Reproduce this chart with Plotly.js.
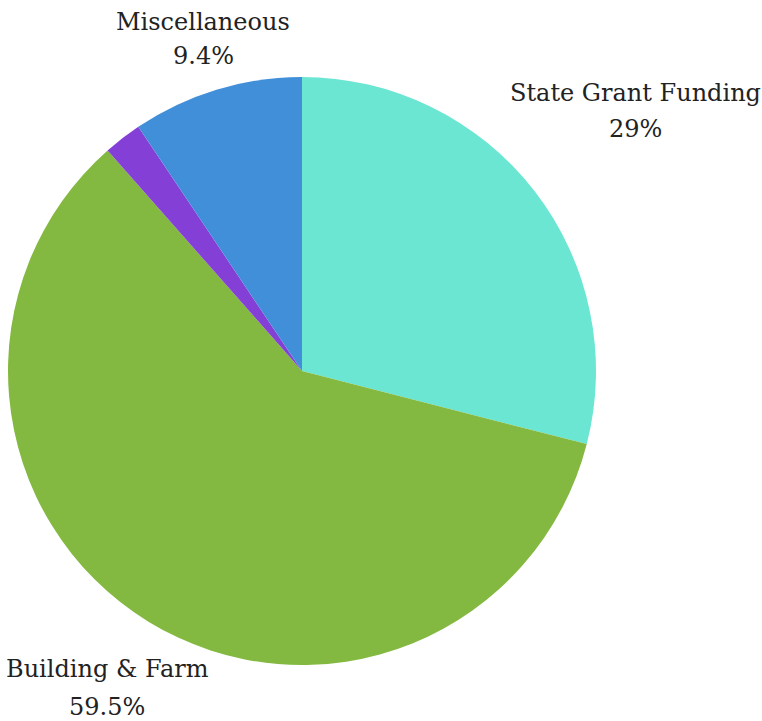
<!DOCTYPE html>
<html>
<head>
<meta charset="utf-8">
<script src="https://cdn.plot.ly/plotly-3.0.1.min.js"></script>
<style>html,body{margin:0;padding:0;background:#fff;}#chart{width:762px;height:721px;}</style>
</head>
<body>
<div id="chart"></div>
<script>
var labels = ["State Grant Funding", "Building & Farm", "Other", "Miscellaneous"];
var values = [29, 59.5, 2.1, 9.4];
var colors = ["#6BE6D3", "#84B941", "#843FD6", "#418FD8"];
var showText = [true, true, false, true];

var W = 762, H = 721;
// label placement (pixels from top-left): centre x, name line y, percent line y
var labelPos = [
  { x: 635, y1: 93, y2: 129 },
  { x: 107, y1: 669, y2: 707 },
  null,
  { x: 203, y1: 22, y2: 56 }
];

var total = values.reduce(function (a, b) { return a + b; }, 0);
function fmtPct(v) {
  var p = Math.round(v / total * 1000) / 10;
  return (Math.round(p) === p ? p.toFixed(0) : p.toFixed(1)) + "%";
}

var font = { family: "DejaVu Serif, Liberation Serif, serif", size: 24, color: "#222" };
var annotations = [];
labels.forEach(function (lab, i) {
  if (!showText[i]) return;
  var p = labelPos[i];
  annotations.push({ xref: "paper", yref: "paper", x: p.x / W, y: 1 - p.y1 / H, xanchor: "center", yanchor: "middle", text: lab.replace("&", "&amp;"), showarrow: false, font: font });
  annotations.push({ xref: "paper", yref: "paper", x: p.x / W, y: 1 - p.y2 / H, xanchor: "center", yanchor: "middle", text: fmtPct(values[i]), showarrow: false, font: font });
});

var trace = {
  type: "pie",
  labels: labels,
  values: values,
  sort: false,
  direction: "clockwise",
  rotation: 0,
  marker: { colors: colors, line: { width: 0 } },
  textinfo: "none",
  hoverinfo: "label+percent",
  showlegend: false,
  domain: { x: [8 / W, 596 / W], y: [56 / H, 644 / H] }
};

var layout = {
  width: W,
  height: H,
  margin: { l: 0, r: 0, t: 0, b: 0 },
  paper_bgcolor: "#fff",
  showlegend: false,
  annotations: annotations
};

Plotly.newPlot("chart", [trace], layout, { displayModeBar: false, staticPlot: true });
</script>
</body>
</html>
